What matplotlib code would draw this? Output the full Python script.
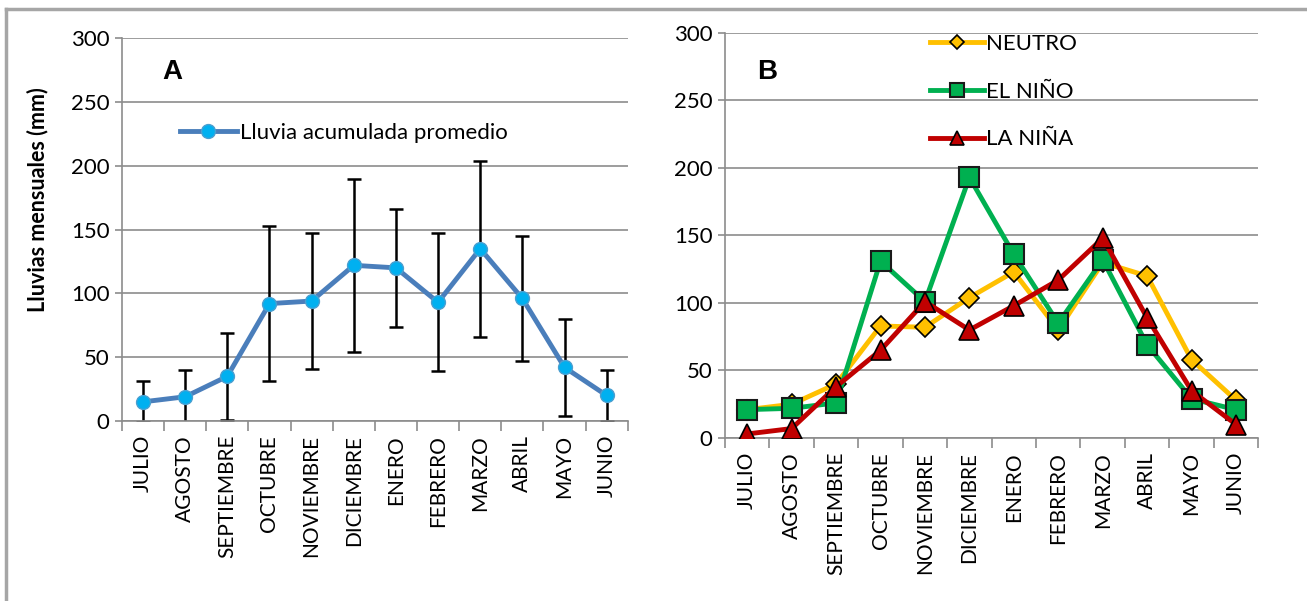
import numpy as np
import matplotlib.pyplot as plt
from matplotlib.lines import Line2D

plt.rcParams['font.family'] = ['Lato', 'DejaVu Sans']

meses = ["JULIO", "AGOSTO", "SEPTIEMBRE", "OCTUBRE", "NOVIEMBRE", "DICIEMBRE",
         "ENERO", "FEBRERO", "MARZO", "ABRIL", "MAYO", "JUNIO"]

# Panel A: promedio mensual y desviacion
lluvia_prom = [15, 19, 35, 92, 94, 122, 120, 93, 135, 96, 42, 20]
lluvia_std = [16, 21, 34, 61, 53, 68, 46, 54, 69, 49, 38, 20]

# Panel B: por fase ENSO
neutro = [21, 25, 40, 83, 82, 104, 123, 80, 130, 120, 58, 28]
el_nino = [21, 22, 26, 131, 101, 193, 136, 85, 132, 69, 29, 21]
la_nina = [3, 7, 38, 65, 101, 80, 98, 117, 148, 89, 35, 10]

fig = plt.figure(figsize=(13.07, 6.01), dpi=100)
axA = fig.add_axes([0.0933, 0.2995, 0.387, 0.637])
axB = fig.add_axes([0.5547, 0.2712, 0.408, 0.674])

x = np.arange(len(meses))
grid_c = "#8c8c8c"


def estilo(ax):
    ax.set_xlim(-0.5, len(meses) - 0.5)
    ax.set_ylim(0, 300)
    ax.set_yticks(range(0, 301, 50))
    ax.yaxis.grid(True, color=grid_c, lw=1.2)
    ax.set_axisbelow(True)
    for s in ["top", "right"]:
        ax.spines[s].set_visible(False)
    ax.spines["left"].set_color(grid_c)
    ax.spines["bottom"].set_color(grid_c)
    ax.spines["left"].set_linewidth(1.2)
    ax.spines["bottom"].set_linewidth(1.2)
    ax.set_xticks(x)
    ax.set_xticklabels(meses, rotation=90, fontsize=15)
    ax.tick_params(axis="x", which="major", length=0, pad=10)
    ax.set_xticks(np.arange(-0.5, len(meses), 1), minor=True)
    ax.tick_params(axis="x", which="minor", length=7, color=grid_c, width=1.2)
    ax.tick_params(axis="y", length=5, color=grid_c, width=1.2, labelsize=16, pad=4)


estilo(axA)
estilo(axB)

# Panel A
axA.errorbar(x, lluvia_prom, yerr=lluvia_std, fmt="none", ecolor="black",
             elinewidth=1.8, capsize=5, capthick=1.8, zorder=2)
axA.plot(x, lluvia_prom, color="#4a7ebb", lw=3.5, marker="o", ms=10,
         mfc="#00b0f0", mec="#4a9fd0", mew=1, zorder=3,
         label="Lluvia acumulada promedio")
axA.set_ylabel("Lluvias mensuales (mm)", fontsize=15.5, fontweight="bold")
axA.yaxis.set_label_coords(-0.146, 0.577)
axA.text(0.08, 0.945, "A", transform=axA.transAxes, fontsize=20, fontweight="bold",
         family="Liberation Sans", va="top")
axA.legend(loc="center left", bbox_to_anchor=(0.114, (421 - 133) / 383), frameon=False,
           fontsize=16, handlelength=2.6, handletextpad=0.1, borderaxespad=0,
           borderpad=0)

# Panel B
axB.plot(x, neutro, color="#ffc000", lw=3.5, marker="D", ms=10, mfc="#ffc000",
         mec="black", mew=1.2, label="NEUTRO", zorder=3)
axB.plot(x, el_nino, color="#00b050", lw=3.5, marker="s", ms=14, mfc="#00b050",
         mec="#1a1a1a", mew=1.5, label="EL NIÑO", zorder=4)
axB.plot(x, la_nina, color="#c00000", lw=3.5, marker="^", ms=14, mfc="#c00000",
         mec="black", mew=1.2, label="LA NIÑA", zorder=5)
axB.text(0.06, 0.935, "B", transform=axB.transAxes, fontsize=20, fontweight="bold",
         family="Liberation Sans", va="top")
axB.legend(loc="upper left", bbox_to_anchor=(0.385, 0.998), frameon=False,
           fontsize=16, handlelength=2.4, handletextpad=0.1,
           labelspacing=1.25, borderaxespad=0, borderpad=0, markerscale=0.75)

# Marco exterior
fig.add_artist(Line2D([0.0046, 1.0], [0.985, 0.985], color="#a6a6a6", lw=2.5,
                      transform=fig.transFigure))
fig.add_artist(Line2D([0.0046, 0.0046], [0.0, 0.985], color="#a6a6a6", lw=2.5,
                      transform=fig.transFigure))

fig.savefig("out.png", dpi=100, facecolor="white")
